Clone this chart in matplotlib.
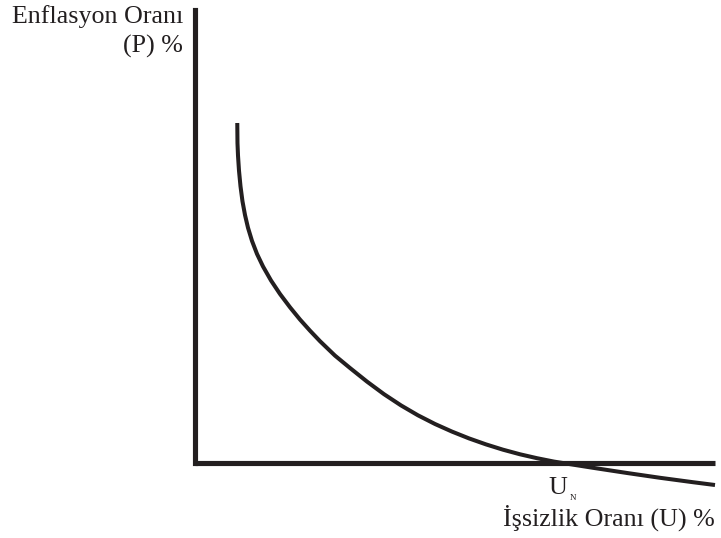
import matplotlib
matplotlib.use("Agg")
import matplotlib.pyplot as plt
import matplotlib.transforms as mtransforms

# Phillips curve (U = unemployment, P = inflation; arbitrary units)
u_vals = [0.813, 0.815, 0.817, 0.827, 0.846, 0.875, 0.913, 0.962, 1.019, 1.096,
          1.192, 1.308, 1.462, 1.635, 1.827, 2.019, 2.212, 2.404, 2.692, 2.981,
          3.308, 3.635, 3.962, 4.288, 4.615, 4.942, 5.269, 5.596, 5.923, 6.250,
          6.577, 6.904, 7.231, 7.654, 8.308, 8.942, 9.577, 10.0]
p_vals = [8.000, 7.765, 7.527, 7.233, 6.880, 6.511, 6.158, 5.833, 5.536, 5.226,
          4.920, 4.624, 4.294, 3.976, 3.664, 3.376, 3.113, 2.866, 2.527, 2.235,
          1.915, 1.619, 1.355, 1.122, 0.918, 0.739, 0.579, 0.438, 0.313, 0.205,
          0.113, 0.033, -0.031, -0.113, -0.235, -0.348, -0.452, -0.518]
u_natural = 7.02

y_label_1 = "Enflasyon Oranı"
y_label_2 = "(P) %"
x_label = "İşsizlik Oranı (U) %"
un_main = "U"
un_sub = "N"

ink = "#231f20"
W, H = 721, 538
fig = plt.figure(figsize=(W / 100, H / 100), dpi=100)
plt.rcParams['font.family'] = ['Liberation Serif', 'DejaVu Serif']

x0, x1, y0, y1 = 195, 715, 463, 10
ax = fig.add_axes([x0 / W, (H - y0) / H, (x1 - x0) / W, (y0 - y1) / H])
ax.set_xlim(0, 10)
ax.set_ylim(0, (y0 - y1) / 42.5)
ax.set_xticks([])
ax.set_yticks([])
for s in ['top', 'right']:
    ax.spines[s].set_visible(False)
for s in ['left', 'bottom']:
    ax.spines[s].set_linewidth(3.7)
    ax.spines[s].set_color(ink)
ax.spines['left'].set_capstyle('projecting')
ax.spines['bottom'].set_capstyle('butt')

ax.plot(u_vals, p_vals, color=ink, lw=2.9, clip_on=False,
        solid_capstyle='butt', solid_joinstyle='round')

fs = 18.7
fig.text(183 / W, 1 - 23 / H, y_label_1, ha='right', va='baseline', fontsize=fs, color=ink)
fig.text(183 / W, 1 - 53 / H, y_label_2, ha='right', va='baseline', fontsize=fs, color=ink)
fig.text(715 / W, 1 - 526 / H, x_label, ha='right', va='baseline', fontsize=fs, color=ink)

blend = mtransforms.blended_transform_factory(ax.transData, fig.transFigure)
ax.text(u_natural - 0.05, 1 - 494 / H, un_main, transform=blend, ha='center', va='baseline',
        fontsize=fs, color=ink, clip_on=False)
ax.text(u_natural + 0.19, 1 - 500 / H, un_sub, transform=blend, ha='left', va='baseline',
        fontsize=6.5, color=ink, clip_on=False)

fig.savefig("out.png", dpi=100)
